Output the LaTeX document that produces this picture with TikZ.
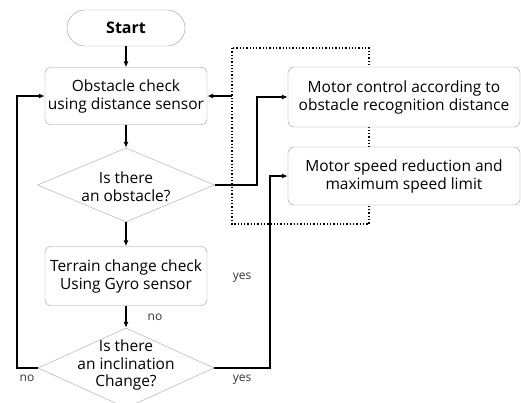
\documentclass[tikz,border=0pt]{standalone}
\usepackage{fontspec}
\setmainfont{Open Sans}
\usetikzlibrary{shapes.geometric,arrows.meta}
\tikzset{
  box/.style={draw=gray!80, rounded corners=6pt, fill=white, align=center,
    font=\fontsize{15.5}{18}\selectfont, inner sep=0pt},
  dia/.style={draw=gray!70, diamond, inner sep=0pt, fill=white},
  flow/.style={-{Latex[length=6pt,width=5pt]}, line width=1.1pt},
  loop/.style={-{Latex[length=6pt,width=5pt]}, line width=2.2pt},
  lbl/.style={font=\fontsize{12}{14}\selectfont, text=black!80}
}
\begin{document}
\begin{tikzpicture}[x=1pt,y=-1pt]
    \useasboundingbox (0,0) rectangle (521,402);
    % dotted frame behind the motor boxes
    \draw[dotted, line width=1.3pt] (232,48) rectangle (369,224);
    \coordinate (F) at (232,96);
    \node[box, rounded corners=18pt, minimum width=118pt, minimum height=36pt,
      font=\fontsize{16}{18}\selectfont\bfseries] (start) at (126,28) {Start};
    \node[box, minimum width=162pt, minimum height=57pt] (check) at (126,96)
      {Obstacle check\\using distance sensor};
    \node[dia, minimum width=177pt, minimum height=74pt] (obst) at (126,185) {};
    \node[align=center, font=\fontsize{15.5}{18}\selectfont] (obstt) at (126,187)
      {Is there\\an obstacle?};
    \node[box, minimum width=162pt, minimum height=59pt] (terrain) at (126,276)
      {Terrain change check\\Using Gyro sensor};
    \node[dia, minimum width=176pt, minimum height=80pt] (incl) at (126,368) {};
    \node[align=center, font=\fontsize{15.5}{17.5}\selectfont] (inclt) at (126,365)
      {Is there\\an inclination\\Change?};
    \node[box, minimum width=232pt, minimum height=60pt] (motor) at (404,97)
      {Motor control according to\\obstacle recognition distance};
    \node[box, minimum width=232pt, minimum height=58pt] (speed) at (404,176)
      {Motor speed reduction and\\maximum speed limit};
    % straight flow
    \draw[flow] (start) -- (check);
    \draw[flow] (check) -- (obst);
    \draw[flow] (obst) -- (terrain);
    \draw[flow] (terrain) -- (incl);
    % loops
    \draw[loop] (incl.west) -- (17,368) |- (check.west);
    \draw[loop] (incl.east) -- (270,368) |- (speed.west);
    \draw[loop] (obst.east) -- (257,185) |- (motor.west);
    \draw[loop] (F) -- (check.east);
    \node[lbl] (y1) at (242,278) {yes};
    \node[lbl] (n1) at (155,317) {no};
    \node[lbl] (n2) at (27,378) {no};
    \node[lbl] (y2) at (242,380) {yes};
  \end{tikzpicture}
\end{document}
